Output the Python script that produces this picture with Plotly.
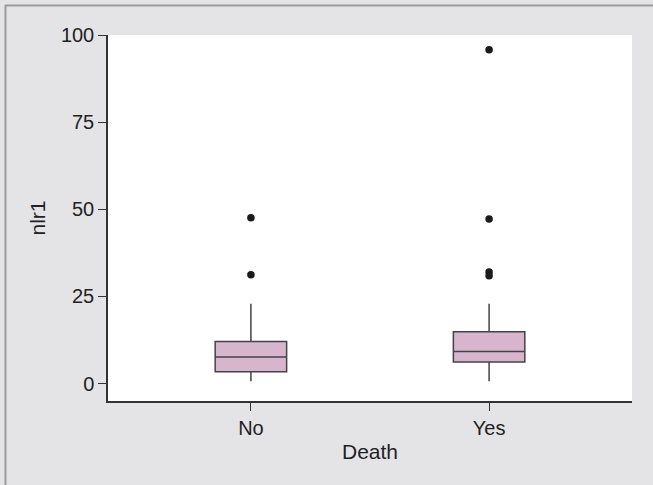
import plotly.graph_objects as go

# Summary statistics of nlr1 by outcome
groups = ["No", "Yes"]
q1 = [3.4, 6.2]
median = [7.6, 9.2]
q3 = [12.1, 14.9]
lower_fence = [0.7, 0.7]
upper_fence = [22.9, 22.9]

# Outlying observations
outlier_group = ["No", "No", "Yes", "Yes", "Yes", "Yes"]
outlier_value = [47.6, 31.2, 95.8, 47.2, 32.0, 30.9]

W, H = 653, 485
L, R, T, B = 108, 21, 35, 84
PW, PH = W - L - R, H - T - B


def px_x(p):
    return (p - L) / PW


def px_y(p):
    return 1 - (p - T) / PH


fig = go.Figure()
fig.add_trace(go.Box(
    x=groups,
    q1=q1, median=median, q3=q3,
    lowerfence=lower_fence, upperfence=upper_fence,
    width=0.3,
    whiskerwidth=0,
    fillcolor="#d7b5cc",
    line=dict(color="#444444", width=1.5),
    boxpoints=False,
    showlegend=False,
    hoverinfo="skip",
))
fig.add_trace(go.Scatter(
    x=outlier_group, y=outlier_value,
    mode="markers",
    marker=dict(color="#1a1a1a", size=7.5),
    showlegend=False,
    hoverinfo="skip",
))

font = dict(family="Liberation Sans, Arial, sans-serif", size=20, color="#222222")

fig.update_layout(
    width=W, height=H,
    margin=dict(l=L, r=R, t=T, b=B),
    paper_bgcolor="#e4e4e6",
    plot_bgcolor="#ffffff",
    font=font,
    xaxis=dict(
        type="category",
        range=[-0.6, 1.6],
        showgrid=False, zeroline=False,
        showline=True, linecolor="#333333", linewidth=1.5,
        ticks="outside", ticklen=8, tickcolor="#333333", tickwidth=1,
        tickfont=dict(size=20),
        title=dict(text="Death", standoff=7, font=dict(size=21)),
    ),
    yaxis=dict(
        range=[-5, 100],
        tickvals=[0, 25, 50, 75, 100],
        showgrid=False, zeroline=False,
        showline=True, linecolor="#333333", linewidth=1.5,
        ticks="outside", ticklen=8, tickcolor="#333333", tickwidth=1,
        tickfont=dict(size=20),
        title=dict(text="nlr1", standoff=10, font=dict(size=21)),
    ),
    shapes=[
        dict(type="line", xref="paper", yref="paper",
             x0=px_x(5), x1=px_x(W), y0=px_y(5.5), y1=px_y(5.5),
             line=dict(color="#9a9a9a", width=2)),
        dict(type="line", xref="paper", yref="paper",
             x0=px_x(5.5), x1=px_x(5.5), y0=px_y(5), y1=px_y(H),
             line=dict(color="#9a9a9a", width=2)),
    ],
)

fig.write_html("out.html")
